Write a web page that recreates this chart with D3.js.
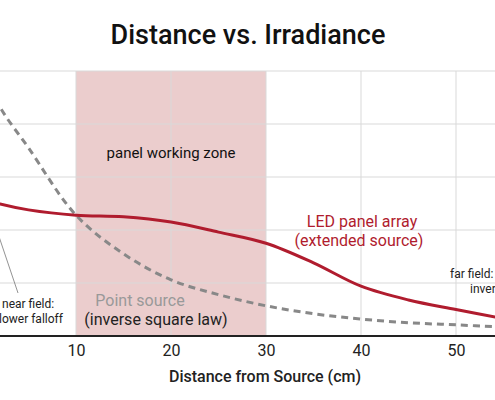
<!DOCTYPE html>
<html><head><meta charset="utf-8">
<script src="https://cdn.jsdelivr.net/npm/d3@7"></script>
<style>body{margin:0;background:#fff;font-family:Roboto,sans-serif;overflow:hidden}</style>
</head><body><div id="chart"></div>
<script>
// Data
var xTicks = [10, 20, 30, 40, 50];
var yGrid = [1, 2, 3, 4, 5];
var ledX = [0, 2, 5, 10, 15, 20, 25, 30, 35, 40, 45, 50, 55];
var ledY = [2.6, 2.49, 2.38, 2.28, 2.25, 2.15, 1.96, 1.75, 1.38, 0.94, 0.68, 0.5, 0.33];
var pointX = [0, 2, 5, 10, 15, 20, 25, 30, 35, 40, 45, 50, 55];
var pointY = [5.1, 4.32, 3.55, 2.28, 1.55, 1.06, 0.78, 0.57, 0.42, 0.32, 0.25, 0.21, 0.17];
var zone = [10, 30];

var width = 495, height = 400;
var svg = d3.select("#chart").append("svg")
  .attr("width", width).attr("height", height);

var x = d3.scaleLinear().domain([10, 50]).range([76, 456]);
var y = d3.scaleLinear().domain([0, 5]).range([336, 71]);

svg.append("defs").append("clipPath").attr("id", "plot")
  .append("rect").attr("x", 0).attr("y", 71).attr("width", width).attr("height", 265);

// Working zone
svg.append("rect")
  .attr("x", x(zone[0])).attr("y", y(5))
  .attr("width", x(zone[1]) - x(zone[0])).attr("height", y(0) - y(5))
  .attr("fill", "#ebcdcd");

// Grid
svg.selectAll(".hg").data(yGrid).enter().append("line")
  .attr("x1", 0).attr("x2", width)
  .attr("y1", function(d) { return y(d); }).attr("y2", function(d) { return y(d); })
  .attr("stroke", "#d9d9d9").attr("stroke-width", 1);
svg.selectAll(".vg").data(xTicks).enter().append("line")
  .attr("y1", y(0)).attr("y2", y(5))
  .attr("x1", function(d) { return x(d); }).attr("x2", function(d) { return x(d); })
  .attr("stroke", "#d9d9d9").attr("stroke-width", 1);

// X axis
var axis = svg.append("g").attr("transform", "translate(0," + y(0) + ")")
  .call(d3.axisBottom(x).tickValues(xTicks).tickSize(0).tickPadding(9));
axis.select(".domain").remove();
axis.selectAll("text").style("font-size", "16px").style("font-family", "Roboto").attr("fill", "#222");
svg.append("line").attr("x1", 0).attr("x2", width).attr("y1", y(0)).attr("y2", y(0))
  .attr("stroke", "#222").attr("stroke-width", 2);

var line = d3.line().curve(d3.curveCatmullRom.alpha(0.5))
  .x(function(d) { return x(d[0]); }).y(function(d) { return y(d[1]); });

var g = svg.append("g").attr("clip-path", "url(#plot)");
g.append("path").datum(d3.zip(pointX, pointY)).attr("d", line)
  .attr("fill", "none").attr("stroke", "#888").attr("stroke-width", 3)
  .attr("stroke-dasharray", "7,5");
g.append("path").datum(d3.zip(ledX, ledY)).attr("d", line)
  .attr("fill", "none").attr("stroke", "#b01c2e").attr("stroke-width", 3);

// Title and axis label
svg.append("text").attr("x", 248).attr("y", 44).attr("text-anchor", "middle")
  .style("font-size", "27px").style("font-weight", "500").attr("fill", "#111")
  .text("Distance vs. Irradiance");
svg.append("text").attr("x", 265).attr("y", 382).attr("text-anchor", "middle")
  .style("font-size", "16px").style("font-weight", "500").attr("fill", "#222")
  .text("Distance from Source (cm)");

// Annotations
function label(tx, ty, str, size, color, anchor) {
  svg.append("text").attr("x", tx).attr("y", ty).attr("text-anchor", anchor || "middle")
    .style("font-size", size + "px").attr("fill", color).text(str);
}
label(171, 158, "panel working zone", 15, "#111");
label(362, 227, "LED panel array", 16, "#b01c2e");
label(359, 246, "(extended source)", 16, "#b01c2e");
label(140, 306, "Point source", 16, "#999");
label(156, 325, "(inverse square law)", 16, "#222");
label(2, 308, "near field:", 12, "#222", "start");
label(-1, 323, "lower falloff", 12, "#222", "start");
label(450, 278, "far field:", 12, "#222", "start");
label(470, 293, "inverse square", 12, "#222", "start");
svg.append("line").attr("x1", x(1.2)).attr("y1", 217).attr("x2", 18).attr("y2", 293)
  .attr("stroke", "#777").attr("stroke-width", 0.8);
</script></body></html>
